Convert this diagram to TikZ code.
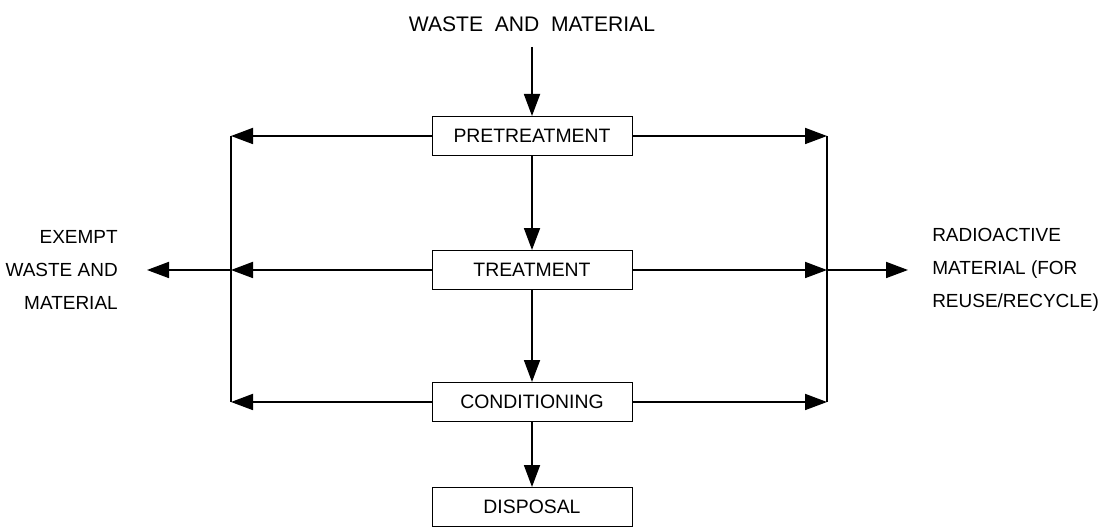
\documentclass[tikz,border=0pt]{standalone}
\usepackage{fontspec}
\setmainfont{Liberation Sans}
\usetikzlibrary{arrows.meta}
\newcommand{\boxwidth}{5cm}
\newcommand{\boxheight}{0.975cm}

\begin{document}
\begin{tikzpicture}
    \useasboundingbox (0,0) rectangle (27.875,13.225);

    \begin{scope}[every node/.style={draw,line width=0.7pt,minimum width=\boxwidth,minimum height=\boxheight,inner sep=0pt,font=\fontsize{13.8}{16}\selectfont}]
        \node (pre) at (13.3,9.825) {PRETREATMENT};
        \node (treat) at (13.3,6.475) {TREATMENT};
        \node (cond) at (13.3,3.175) {CONDITIONING};
        \node (disp) at (13.3,0.55) {DISPOSAL};
    \end{scope}

    \begin{scope}[every node/.style={inner sep=0pt,font=\fontsize{13.5}{23.5}\selectfont}]
        \node[font=\fontsize{15}{18}\selectfont] (in) at (13.3,12.625) {WASTE\ \ AND\ \ MATERIAL};
        \node[anchor=east,align=right] (exempt) at (2.95,6.475) {EXEMPT\\WASTE AND\\MATERIAL};
        \node[anchor=west,align=left] (radio) at (23.3,6.475) {RADIOACTIVE\\MATERIAL (FOR\\REUSE/RECYCLE)};
    \end{scope}

    \coordinate (L) at (5.775,0);
    \coordinate (R) at (20.675,0);

    \draw[line width=0.9pt] (L |- pre.west) -- (L |- cond.west);
    \draw[line width=0.9pt] (R |- pre.east) -- (R |- cond.east);

    \begin{scope}[>={Triangle[length=0.55cm,width=0.4cm]},
        every edge/.style={draw=black,line width=1.3pt}]
        \path [->] (in) edge[shorten <=0.38cm] (pre.north);
        \path [->] (pre) edge (treat);
        \path [->] (treat) edge (cond);
        \path [->] (cond) edge (disp);

        \path [->] (pre.west) edge (L |- pre.west);
        \path [->] (treat.west) edge (L |- treat.west);
        \path [->] (cond.west) edge (L |- cond.west);
        \path [->] (pre.east) edge (R |- pre.east);
        \path [->] (treat.east) edge (R |- treat.east);
        \path [->] (cond.east) edge (R |- cond.east);

        \path [->] (L |- treat.west) edge[shorten >=0.725cm] (exempt);
        \path [->] (R |- treat.east) edge[shorten >=0.6cm] (radio);
    \end{scope}
\end{tikzpicture}
\end{document}
